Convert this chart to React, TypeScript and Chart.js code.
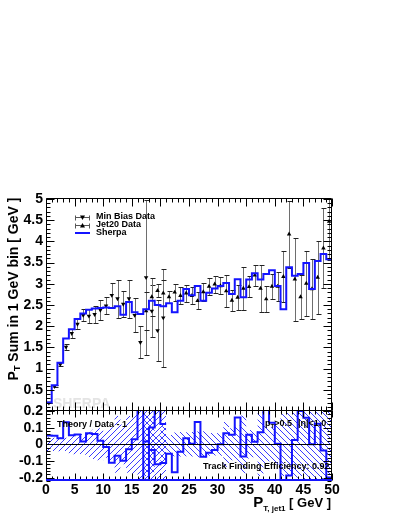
import React, { useEffect, useRef } from "react";
import { Chart, registerables } from "chart.js";

Chart.register(...registerables);

const W = 399;
const H = 516;
const FONT = '"Liberation Sans", Arial, Helvetica, sans-serif';
const BLUE = "#1414ff";
const HATCH_BLUE = "#3c3cff";

// panel geometry (pixels)
const AREA_LEFT = 46;
const AREA_RIGHT = 332;
const MAIN_TOP = 199;
const SPLIT = 411;
const RATIO_BOTTOM = 481;

// axes
const xMin = 0;
const xMax = 50;
const mainYMin = 0;
const mainYMax = 5;
const ratioYMin = -0.22;
const ratioYMax = 0.2;
const xTickValues = [0, 5, 10, 15, 20, 25, 30, 35, 40, 45, 50];
const mainYTickValues = [0.5, 1, 1.5, 2, 2.5, 3, 3.5, 4, 4.5, 5];
const ratioYTickValues = [-0.2, -0.1, 0, 0.1, 0.2];

// Sherpa prediction, 1 GeV bins starting at 0
const sherpaStart = 0;
const sherpa = [
  0.2, 0.61, 1.14, 1.71, 1.93, 2.17, 2.3, 2.39, 2.42, 2.43,
  2.44, 2.43, 2.47, 2.27, 2.57, 2.33, 2.29, 2.4, 2.6, 2.5,
  2.47, 2.54, 2.33, 2.6, 2.88, 2.73, 2.95, 2.6, 2.79, 2.89,
  2.95, 3.02, 2.76, 3.11, 2.68, 3.1, 3.25, 3.1, 3.23, 3.32,
  2.95, 2.4, 3.39, 3.19, 3.23, 3.49, 2.88, 3.54, 3.7, 3.58,
];

// Min Bias data, bins starting at 0
const minBiasStart = 0;
const minBias = [
  0.19, 0.58, 1.1, 1.51, 1.83, 2.05, 2.26, 2.24, 2.28, 2.38,
  2.48, 2.73, 2.65, 2.52, 2.65, 2.26, 1.62, 3.15, 2.36, 1.9, 2.2,
];
const minBiasErr = [
  0.008, 0.023, 0.045, 0.06, 0.11, 0.12, 0.14, 0.17, 0.2, 0.23,
  0.2, 0.28, 0.45, 0.3, 0.45, 0.4, 0.38, 1.83, 0.62, 0.71, 1.16,
];

// Jet20 data, bins starting at 17
const jet20Start = 17;
const jet20 = [
  2.36, 2.69, 2.84, 2.78, 2.69, 2.8, 2.72, 2.78, 2.72, 2.6,
  2.81, 2.94, 2.99, 2.95, 2.83, 2.61, 2.68, 2.89, 2.93, 3.2,
  2.89, 2.64, 2.94, 2.94, 3.17, 4.17, 3.11, 2.69, 3.01, 2.88,
  3.15, 3.84, 4.47,
];
const jet20Err = [
  0.45, 0.45, 0.15, 0.3, 0.15, 0.2, 0.2, 0.2, 0.2, 0.2,
  0.22, 0.2, 0.2, 0.2, 0.38, 0.25, 0.3, 0.5, 0.25, 0.25,
  0.55, 0.3, 0.3, 0.35, 0.6, 0.79, 0.98, 0.51, 0.77, 0.71,
  0.86, 0.95, 0.9,
];

const labelMinBias = "Min Bias Data";
const labelJet20 = "Jet20 Data";
const labelSherpa = "Sherpa";

type Pt = { x: number; y: number };

function stepData(start: number, vals: number[]): Pt[] {
  const pts = vals.map((v, i) => ({ x: start + i, y: v }));
  pts.push({ x: start + vals.length, y: vals[vals.length - 1] });
  return pts;
}
function centerData(start: number, vals: number[]): Pt[] {
  return vals.map((v, i) => ({ x: start + i + 0.5, y: v }));
}
function ratioOf(start: number, data: number[]): number[] {
  return data.map((d, i) => sherpa[start - sherpaStart + i] / d - 1);
}
function relErr(data: number[], err: number[]): number[] {
  return data.map((d, i) => err[i] / d);
}

// diagonal hatch tile; rising = true gives "/" lines, false gives "\" lines
function hatch(ctx: CanvasRenderingContext2D, rising: boolean) {
  const s = 6;
  const c = document.createElement("canvas");
  c.width = s;
  c.height = s;
  const g = c.getContext("2d")!;
  g.fillStyle = HATCH_BLUE;
  for (let i = 0; i < s; i++) {
    const xx = rising ? s - 1 - i : i;
    g.fillRect(xx, i, 1, 1);
  }
  return ctx.createPattern(c, "repeat");
}

type Part = { t: string; size: number; dy?: number };
function richWidth(ctx: CanvasRenderingContext2D, parts: Part[]) {
  let w = 0;
  for (const p of parts) {
    ctx.font = `bold ${p.size}px ${FONT}`;
    w += ctx.measureText(p.t).width;
  }
  return w;
}
function drawRich(ctx: CanvasRenderingContext2D, parts: Part[], x: number, y: number) {
  let cx = x;
  for (const p of parts) {
    ctx.font = `bold ${p.size}px ${FONT}`;
    ctx.fillText(p.t, cx, y + (p.dy || 0));
    cx += ctx.measureText(p.t).width;
  }
}

function steps(min: number, max: number, step: number) {
  const out: number[] = [];
  for (let k = Math.ceil(min / step - 1e-9); k * step <= max + 1e-9; k++) out.push(k * step);
  return out;
}

function frameTicks(o: { xMajor: number; xMinor: number; yMajor: number; yMinor: number; xMaj: number; xMin: number; yMaj: number; yMin: number; blueBottom?: boolean }) {
  return {
    id: "frameTicks",
    afterDatasetsDraw(chart: any) {
      const { ctx, chartArea: a, scales } = chart;
      const x = scales.x;
      const y = scales.y;
      const L = Math.round(a.left) + 0.5;
      const R = Math.round(a.right) - 0.5;
      const T = Math.round(a.top) - 0.5;
      const B = Math.round(a.bottom) - 0.5;
      ctx.save();
      ctx.strokeStyle = "#000";
      ctx.lineWidth = 1;
      ctx.beginPath();
      for (const v of steps(x.min, x.max, o.xMinor)) {
        const maj = Math.abs(v / o.xMajor - Math.round(v / o.xMajor)) < 1e-6;
        const len = maj ? o.xMaj : o.xMin;
        const px = Math.round(x.getPixelForValue(v)) + 0.5;
        ctx.moveTo(px, B);
        ctx.lineTo(px, B - len);
        ctx.moveTo(px, T);
        ctx.lineTo(px, T + len);
      }
      for (const v of steps(y.min, y.max, o.yMinor)) {
        const maj = Math.abs(v / o.yMajor - Math.round(v / o.yMajor)) < 1e-6;
        const len = maj ? o.yMaj : o.yMin;
        const py = Math.round(y.getPixelForValue(v)) + 0.5;
        ctx.moveTo(L, py);
        ctx.lineTo(L + len, py);
        ctx.moveTo(R, py);
        ctx.lineTo(R - len, py);
      }
      ctx.stroke();
      ctx.beginPath();
      ctx.moveTo(L, B);
      ctx.lineTo(L, T);
      ctx.lineTo(R, T);
      ctx.lineTo(R, B);
      if (!o.blueBottom) ctx.lineTo(L, B);
      ctx.stroke();
      if (o.blueBottom) {
        ctx.strokeStyle = BLUE;
        ctx.lineWidth = 2;
        ctx.beginPath();
        ctx.moveTo(L - 0.5, Math.round(a.bottom) - 1);
        ctx.lineTo(R + 0.5, Math.round(a.bottom) - 1);
        ctx.stroke();
      }
      ctx.restore();
    },
  };
}

const tickFont = { family: FONT, size: 14, weight: "bold" as const };
const fmt = (v: any) => `${Math.round(Number(v) * 100) / 100}`;

function mainConfig(): any {
  const errorBars = {
    id: "errorBars",
    beforeDatasetsDraw(chart: any) {
      const { ctx, chartArea: a, scales } = chart;
      const x = scales.x;
      const y = scales.y;
      ctx.save();
      ctx.beginPath();
      ctx.rect(a.left, a.top, a.right - a.left, a.bottom - a.top);
      ctx.clip();
      // watermark
      ctx.fillStyle = "#e4e4e4";
      ctx.font = `bold 14px ${FONT}`;
      ctx.textBaseline = "alphabetic";
      ctx.fillText("SHERPA", 53, 408);
      const sets: [number, number[], number[]][] = [
        [minBiasStart, minBias, minBiasErr],
        [jet20Start, jet20, jet20Err],
      ];
      for (const [s, vals, errs] of sets) {
        vals.forEach((v, i) => {
          const px = Math.round(x.getPixelForValue(s + i + 0.5)) + 0.5;
          const y1 = Math.round(y.getPixelForValue(v + errs[i])) + 0.5;
          const y2 = Math.round(y.getPixelForValue(v - errs[i])) + 0.5;
          ctx.strokeStyle = "#6e6e6e";
          ctx.lineWidth = 1;
          ctx.beginPath();
          ctx.moveTo(px, y1);
          ctx.lineTo(px, y2);
          ctx.stroke();
          ctx.strokeStyle = "#222";
          ctx.beginPath();
          ctx.moveTo(px - 2, y1);
          ctx.lineTo(px + 3, y1);
          ctx.moveTo(px - 2, y2);
          ctx.lineTo(px + 3, y2);
          ctx.stroke();
        });
      }
      ctx.restore();
    },
  };
  const texts = {
    id: "mainTexts",
    afterDraw(chart: any) {
      const { ctx } = chart;
      ctx.save();
      ctx.fillStyle = "#000";
      // y title (rotated)
      const parts: Part[] = [
        { t: "P", size: 14 },
        { t: "T", size: 9, dy: 4 },
        { t: " Sum in 1 GeV bin [ GeV ]", size: 14 },
      ];
      const w = richWidth(ctx, parts);
      ctx.translate(14, 289);
      ctx.rotate(-Math.PI / 2);
      ctx.textBaseline = "middle";
      drawRich(ctx, parts, -w / 2, 0);
      ctx.restore();

      // legend
      ctx.save();
      const ds = chart.data.datasets;
      const rows = [
        { label: ds[1].label, kind: "down", y: 217 },
        { label: ds[2].label, kind: "up", y: 225 },
        { label: ds[0].label, kind: "line", y: 233 },
      ];
      for (const r of rows) {
        const x0 = 75;
        const x1 = 90;
        const yy = r.y + 0.5;
        if (r.kind === "line") {
          ctx.strokeStyle = BLUE;
          ctx.lineWidth = 2;
          ctx.beginPath();
          ctx.moveTo(x0, r.y);
          ctx.lineTo(x1, r.y);
          ctx.stroke();
        } else {
          ctx.strokeStyle = "#555";
          ctx.lineWidth = 1;
          ctx.beginPath();
          ctx.moveTo(x0, yy);
          ctx.lineTo(x1, yy);
          ctx.moveTo(x0 + 0.5, yy - 2);
          ctx.lineTo(x0 + 0.5, yy + 3);
          ctx.moveTo(x1 - 0.5, yy - 2);
          ctx.lineTo(x1 - 0.5, yy + 3);
          ctx.stroke();
          const cx = (x0 + x1) / 2;
          ctx.fillStyle = "#000";
          ctx.beginPath();
          if (r.kind === "down") {
            ctx.moveTo(cx - 2.5, yy - 2);
            ctx.lineTo(cx + 2.5, yy - 2);
            ctx.lineTo(cx, yy + 2.5);
          } else {
            ctx.moveTo(cx - 2.5, yy + 2);
            ctx.lineTo(cx + 2.5, yy + 2);
            ctx.lineTo(cx, yy - 2.5);
          }
          ctx.closePath();
          ctx.fill();
        }
        ctx.fillStyle = "#000";
        ctx.font = `bold 9px ${FONT}`;
        ctx.textBaseline = "middle";
        ctx.fillText(r.label, 96, r.y);
      }
      ctx.restore();
    },
  };
  return {
    type: "line",
    data: {
      datasets: [
        {
          label: labelSherpa,
          data: stepData(sherpaStart, sherpa),
          stepped: true,
          borderColor: BLUE,
          borderWidth: 2,
          pointRadius: 0,
          fill: false,
        },
        {
          label: labelMinBias,
          data: centerData(minBiasStart, minBias),
          showLine: false,
          pointStyle: "triangle",
          pointRotation: 180,
          pointRadius: 2.6,
          backgroundColor: "#000",
          borderColor: "#000",
          borderWidth: 0,
        },
        {
          label: labelJet20,
          data: centerData(jet20Start, jet20),
          showLine: false,
          pointStyle: "triangle",
          pointRadius: 2.6,
          backgroundColor: "#000",
          borderColor: "#000",
          borderWidth: 0,
        },
      ],
    },
    options: {
      responsive: false,
      animation: false,
      events: [],
      layout: { padding: { left: 0, right: W - AREA_RIGHT, top: MAIN_TOP, bottom: H - SPLIT } },
      plugins: { legend: { display: false }, tooltip: { enabled: false } },
      scales: {
        x: { type: "linear", min: xMin, max: xMax, display: false },
        y: {
          type: "linear",
          min: mainYMin,
          max: mainYMax,
          grid: { display: false, drawTicks: false },
          border: { display: false },
          ticks: { font: tickFont, color: "#000", padding: 3, autoSkip: false, callback: fmt },
          afterBuildTicks: (s: any) => {
            s.ticks = mainYTickValues.map((v) => ({ value: v }));
          },
          afterFit: (s: any) => {
            s.width = AREA_LEFT;
          },
        },
      },
    },
    plugins: [errorBars, frameTicks({ xMajor: 5, xMinor: 1, yMajor: 0.5, yMinor: 0.1, xMaj: 8, xMin: 4, yMaj: 8, yMin: 4 }), texts],
  };
}

function ratioConfig(ctx: CanvasRenderingContext2D): any {
  const mbRatio = ratioOf(minBiasStart, minBias);
  const jRatio = ratioOf(jet20Start, jet20);
  const mbRel = relErr(minBias, minBiasErr);
  const jRel = relErr(jet20, jet20Err);
  const texts = {
    id: "ratioTexts",
    afterDraw(chart: any) {
      const c = chart.ctx;
      const y = chart.scales.y;
      const a = chart.chartArea;
      c.save();
      // zero line
      c.strokeStyle = "#000";
      c.lineWidth = 1;
      const py = Math.round(y.getPixelForValue(0)) + 0.5;
      c.beginPath();
      c.moveTo(a.left, py);
      c.lineTo(a.right, py);
      c.stroke();
      c.fillStyle = "#000";
      c.textBaseline = "alphabetic";
      c.font = `bold 9px ${FONT}`;
      c.fillText("Theory / Data - 1", 57, 427);
      drawRich(c, [{ t: "p", size: 9 }, { t: "T", size: 6, dy: 2 }, { t: ">0.5", size: 9 }], 265, 426);
      c.font = `bold 9px ${FONT}`;
      c.fillText("|η|<1.0", 298, 426);
      c.fillText("Track Finding Efficiency: 0.92", 203, 469);
      const parts: Part[] = [
        { t: "P", size: 15 },
        { t: "T, jet1", size: 8, dy: 4 },
        { t: " [ GeV ]", size: 13 },
      ];
      const w = richWidth(c, parts);
      drawRich(c, parts, 331 - w, 507);
      c.restore();
    },
  };
  const band = (start: number, rel: number[], sign: number) =>
    stepData(start, rel.map((r) => sign * r));
  return {
    type: "line",
    data: {
      datasets: [
        { label: labelMinBias, data: stepData(minBiasStart, mbRatio), stepped: true, borderColor: BLUE, borderWidth: 2, pointRadius: 0, fill: false },
        { label: labelJet20, data: stepData(jet20Start, jRatio), stepped: true, borderColor: BLUE, borderWidth: 2, pointRadius: 0, fill: false },
        { label: "mbHi", data: band(minBiasStart, mbRel, 1), stepped: true, borderWidth: 0, borderColor: "rgba(0,0,0,0)", pointRadius: 0, fill: false },
        { label: "mbLo", data: band(minBiasStart, mbRel, -1), stepped: true, borderWidth: 0, borderColor: "rgba(0,0,0,0)", pointRadius: 0, fill: "-1", backgroundColor: hatch(ctx, true) },
        { label: "jHi", data: band(jet20Start, jRel, 1), stepped: true, borderWidth: 0, borderColor: "rgba(0,0,0,0)", pointRadius: 0, fill: false },
        { label: "jLo", data: band(jet20Start, jRel, -1), stepped: true, borderWidth: 0, borderColor: "rgba(0,0,0,0)", pointRadius: 0, fill: "-1", backgroundColor: hatch(ctx, false) },
      ],
    },
    options: {
      responsive: false,
      animation: false,
      events: [],
      layout: { padding: { left: 0, right: W - AREA_RIGHT, top: SPLIT, bottom: 0 } },
      plugins: { legend: { display: false }, tooltip: { enabled: false } },
      scales: {
        x: {
          type: "linear",
          min: xMin,
          max: xMax,
          grid: { display: false, drawTicks: false },
          border: { display: false },
          ticks: { font: tickFont, color: "#000", padding: 1, maxRotation: 0, autoSkip: false, callback: fmt },
          afterBuildTicks: (s: any) => {
            s.ticks = xTickValues.map((v) => ({ value: v }));
          },
          afterFit: (s: any) => {
            s.height = H - RATIO_BOTTOM;
          },
        },
        y: {
          type: "linear",
          min: ratioYMin,
          max: ratioYMax,
          grid: { display: false, drawTicks: false },
          border: { display: false },
          ticks: { font: tickFont, color: "#000", padding: 3, autoSkip: false, callback: fmt },
          afterBuildTicks: (s: any) => {
            s.ticks = ratioYTickValues.map((v) => ({ value: v }));
          },
          afterFit: (s: any) => {
            s.width = AREA_LEFT;
          },
        },
      },
    },
    plugins: [frameTicks({ xMajor: 5, xMinor: 1, yMajor: 0.1, yMinor: 0.02, xMaj: 7, xMin: 4, yMaj: 8, yMin: 4, blueBottom: true }), texts],
  };
}

export default function App() {
  const mainRef = useRef<HTMLCanvasElement>(null);
  const ratioRef = useRef<HTMLCanvasElement>(null);
  useEffect(() => {
    const rc = ratioRef.current!;
    const ratioChart = new Chart(rc, ratioConfig(rc.getContext("2d")!));
    const mainChart = new Chart(mainRef.current!, mainConfig());
    return () => {
      mainChart.destroy();
      ratioChart.destroy();
    };
  }, []);
  return (
    <div style={{ position: "fixed", left: 0, top: 0, width: W, height: H, background: "#fff" }}>
      <canvas ref={ratioRef} width={W} height={H} style={{ position: "absolute", left: 0, top: 0 }} />
      <canvas ref={mainRef} width={W} height={H} style={{ position: "absolute", left: 0, top: 0 }} />
    </div>
  );
}
